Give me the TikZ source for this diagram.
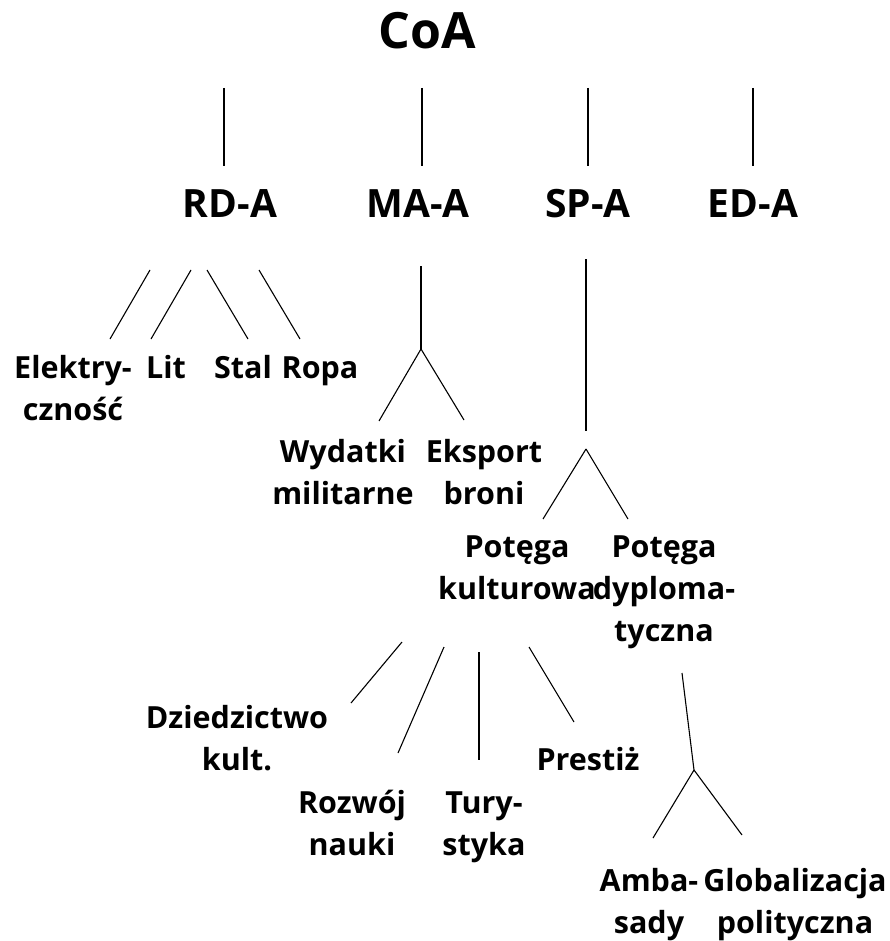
\documentclass[tikz,border=0pt]{standalone}
\usepackage{fontspec}
\setmainfont{Open Sans}
\begin{document}
\begin{tikzpicture}[x=1pt,y=-1pt,
  lbl/.style={font=\bfseries\fontsize{30.5}{42}\selectfont, align=center, anchor=base, inner sep=0pt},
  mid/.style={font=\bfseries\fontsize{39}{45}\selectfont, anchor=base, inner sep=0pt},
  top/.style={font=\bfseries\fontsize{50}{56}\selectfont, anchor=base, inner sep=0pt},
  edge/.style={line width=1.1pt, black}]
\useasboundingbox (0,0) rectangle (890,941);
% labels (anchor = baseline of the last line)
\node[top] (coa) at (427,49) {CoA};
\node[mid] (rd) at (230,218) {RD-A};
\node[mid] (ma) at (418,218) {MA-A};
\node[mid] (sp) at (588,218) {SP-A};
\node[mid] (ed) at (753,218) {ED-A};
\node[lbl] (el) at (73,420) {Elektry-\\czność};
\node[lbl] (lit) at (166,378) {Lit};
\node[lbl] (stal) at (243,378) {Stal};
\node[lbl] (ropa) at (320,378) {Ropa};
\node[lbl] (wyd) at (343,504) {Wydatki\\militarne};
\node[lbl] (eks) at (484,504) {Eksport\\broni};
\node[lbl] (kul) at (517,599) {Potęga\\kulturowa};
\node[lbl] (dyp) at (664,641) {Potęga\\dyploma-\\tyczna};
\node[lbl] (dzi) at (237,770) {Dziedzictwo\\kult.};
\node[lbl] (roz) at (352,855) {Rozwój\\nauki};
\node[lbl] (tur) at (484,855) {Tury-\\styka};
\node[lbl] (pre) at (588,770) {Prestiż};
\node[lbl] (amb) at (649,933) {Amba-\\sady};
\node[lbl] (glo) at (795,933) {Globalizacja\\polityczna};
% line end points
\coordinate (c1) at (224,88); \coordinate (r1) at (224,166);
\coordinate (c2) at (422,88); \coordinate (m1) at (422,166);
\coordinate (c3) at (588,88); \coordinate (s1) at (588,166);
\coordinate (c4) at (753,88); \coordinate (e1) at (753,166);
\coordinate (rdA) at (150,270); \coordinate (elA) at (110,339);
\coordinate (rdB) at (191,270); \coordinate (litA) at (151,339);
\coordinate (rdC) at (207,270); \coordinate (stA) at (248,339);
\coordinate (rdD) at (259,270); \coordinate (roA) at (300,339);
\coordinate (maT) at (421,266); \coordinate (maJ) at (421,349);
\coordinate (wyA) at (379,421); \coordinate (ekA) at (464,420);
\coordinate (spT) at (586,259); \coordinate (spB) at (586,431);
\coordinate (spJ) at (586,449);
\coordinate (kuA) at (543,519); \coordinate (dyA) at (628,519);
\coordinate (kuB) at (402,642); \coordinate (dzA) at (351,703);
\coordinate (kuC) at (444,647); \coordinate (roB) at (398,753);
\coordinate (kuD) at (479,652); \coordinate (tuA) at (479,760);
\coordinate (kuE) at (529,647); \coordinate (prA) at (574,722);
\coordinate (dyT) at (682,673); \coordinate (dyJ) at (694,770);
\coordinate (amA) at (653,838); \coordinate (glA) at (742,835);
% connectors
\draw[edge] (c1) -- (r1);
\draw[edge] (c2) -- (m1);
\draw[edge] (c3) -- (s1);
\draw[edge] (c4) -- (e1);
\draw[edge] (rdA) -- (elA);
\draw[edge] (rdB) -- (litA);
\draw[edge] (rdC) -- (stA);
\draw[edge] (rdD) -- (roA);
\draw[edge] (maT) -- (maJ);
\draw[edge] (maJ) -- (wyA);
\draw[edge] (maJ) -- (ekA);
\draw[edge] (spT) -- (spB);
\draw[edge] (spJ) -- (kuA);
\draw[edge] (spJ) -- (dyA);
\draw[edge] (kuB) -- (dzA);
\draw[edge] (kuC) -- (roB);
\draw[edge] (kuD) -- (tuA);
\draw[edge] (kuE) -- (prA);
\draw[edge] (dyT) -- (dyJ);
\draw[edge] (dyJ) -- (amA);
\draw[edge] (dyJ) -- (glA);
\end{tikzpicture}
\end{document}
